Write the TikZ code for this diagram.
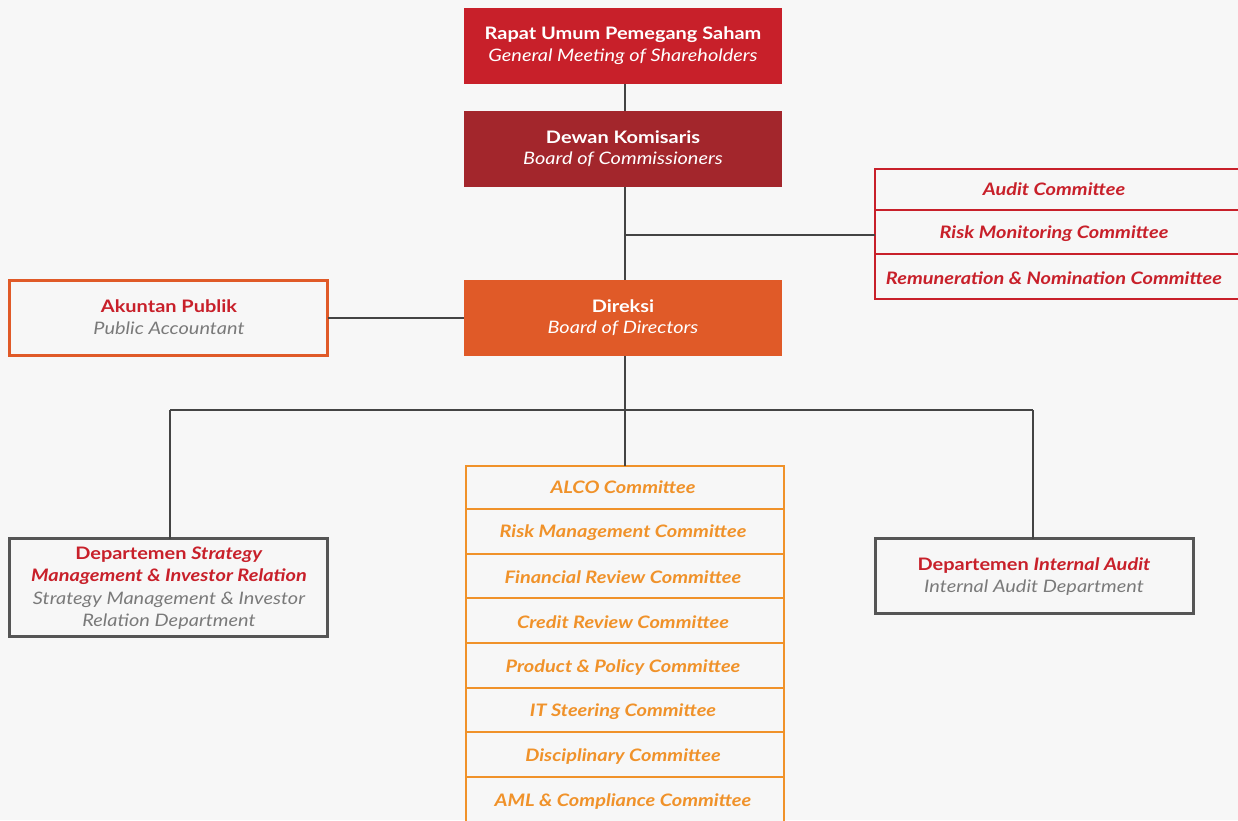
\documentclass[tikz,border=0pt]{standalone}
\usepackage{fontspec}
\setmainfont[FakeStretch=1.16]{Lato}
\definecolor{bg}{HTML}{F7F7F7}
\definecolor{rred}{HTML}{C8202A}
\definecolor{dred}{HTML}{A3262C}
\definecolor{dorange}{HTML}{E05A28}
\definecolor{lorange}{HTML}{F0922A}
\definecolor{gtext}{HTML}{7A7A7A}
\definecolor{gline}{HTML}{555555}
\definecolor{conn}{HTML}{444444}
\begin{document}
\begin{tikzpicture}[x=1pt,y=-1pt,
  conline/.style={draw=conn,line width=1.6pt},
  fillbox/.style={minimum width=318pt,minimum height=76pt,inner sep=0pt,outer sep=0pt,align=center,text=white},
  outbox/.style={fill=bg,line width=2.5pt,inner sep=0pt,outer sep=0pt,align=center},
  rowline/.style={line width=2.5pt},
  title/.style={font=\fontsize{17.2}{22}\selectfont\bfseries},
  sub/.style={font=\fontsize{17.2}{22}\selectfont\itshape},
  rowtxt/.style={font=\fontsize{17.2}{22}\selectfont\bfseries\itshape}
]
\useasboundingbox (0,0) rectangle (1238,820);
\fill[bg] (0,0) rectangle (1238,820);
\clip (0,0) rectangle (1238,820);

% top boxes
\node[fillbox,fill=rred,anchor=north west] (rups) at (464,8) {};
\node[title,text=white] (rupsA) at (623,34.5) {Rapat Umum Pemegang Saham};
\node[sub,text=white] (rupsB) at (623,56.5) {General Meeting of Shareholders};

\node[fillbox,fill=dred,anchor=north west] (dk) at (464,111) {};
\node[title,text=white] (dkA) at (623,137.5) {Dewan Komisaris};
\node[sub,text=white] (dkB) at (623,159.5) {Board of Commissioners};

\node[fillbox,fill=dorange,anchor=north west] (dir) at (464,280) {};
\node[title,text=white] (dirA) at (623,306.5) {Direksi};
\node[sub,text=white] (dirB) at (623,328.5) {Board of Directors};

% Akuntan publik
\node[outbox,draw=dorange,minimum width=318pt,minimum height=75pt,anchor=north west] (ap) at (9.5,280.5) {};
\node[title,text=rred] (apA) at (169,306.5) {Akuntan Publik};
\node[sub,text=gtext] (apB) at (169,328.5) {Public Accountant};

% Right committees
\draw[rred,rowline,fill=bg] (875,169) rectangle (1250,299);
\draw[rred,rowline] (875,210) -- (1250,210);
\draw[rred,rowline] (875,254) -- (1250,254);
\node[rowtxt,text=rred] (rc1) at (1054,189.5) {Audit Committee};
\node[rowtxt,text=rred] (rc2) at (1054,233.5) {Risk Monitoring Committee};
\node[rowtxt,text=rred] (rc3) at (1054,278.5) {Remuneration \& Nomination Committee};
\coordinate (rcl) at (875,235);

% Strategy dept
\node[outbox,draw=gline,minimum width=318pt,minimum height=98pt,anchor=north west] (sm) at (9.5,538.5) {};
\node[title,text=rred,align=center] (smA) at (169,565.5) {Departemen \textit{Strategy}\\\textit{Management \& Investor Relation}};
\node[sub,text=gtext,align=center] (smB) at (169,611) {Strategy Management \& Investor\\Relation Department};

% Internal audit
\node[outbox,draw=gline,minimum width=318pt,minimum height=75pt,anchor=north west] (ia) at (875.5,538.5) {};
\node[title,text=rred] (iaA) at (1034,565.5) {Departemen \textit{Internal Audit}};
\node[sub,text=gtext] (iaB) at (1034,587.5) {Internal Audit Department};

% center committee list
\draw[lorange,rowline,fill=bg] (466,466) rectangle (784,830);
\foreach \yy in {509,554,598,643,688,732,777}{
  \draw[lorange,rowline] (466,\yy) -- (784,\yy);
}
\node[rowtxt,text=lorange] (c1) at (623,487.5) {ALCO Committee};
\node[rowtxt,text=lorange] (c2) at (623,532.5) {Risk Management Committee};
\node[rowtxt,text=lorange] (c3) at (623,577.5) {Financial Review Committee};
\node[rowtxt,text=lorange] (c4) at (623,622.5) {Credit Review Committee};
\node[rowtxt,text=lorange] (c5) at (623,667.5) {Product \& Policy Committee};
\node[rowtxt,text=lorange] (c6) at (623,711.5) {IT Steering Committee};
\node[rowtxt,text=lorange] (c7) at (623,756.5) {Disciplinary Committee};
\node[rowtxt,text=lorange] (c8) at (623,801.5) {AML \& Compliance Committee};
\coordinate (clt) at (625,466);

% connectors
\coordinate (j1) at (625,235);
\coordinate (jl) at (170,410);
\coordinate (jr) at (1033,410);
\draw[conline] (rups.south -| 625,0) -- (dk.north -| 625,0);
\draw[conline] (dk.south -| 625,0) -- (dir.north -| 625,0);
\draw[conline] (j1) -- (rcl);
\draw[conline] (ap.east |- dir.west) -- (dir.west);
\draw[conline] (dir.south -| 625,0) -- (clt);
\draw[conline] (jl) -- (jr);
\draw[conline] (jl) -- (sm.north -| jl);
\draw[conline] (jr) -- (ia.north -| jr);
\end{tikzpicture}
\end{document}
